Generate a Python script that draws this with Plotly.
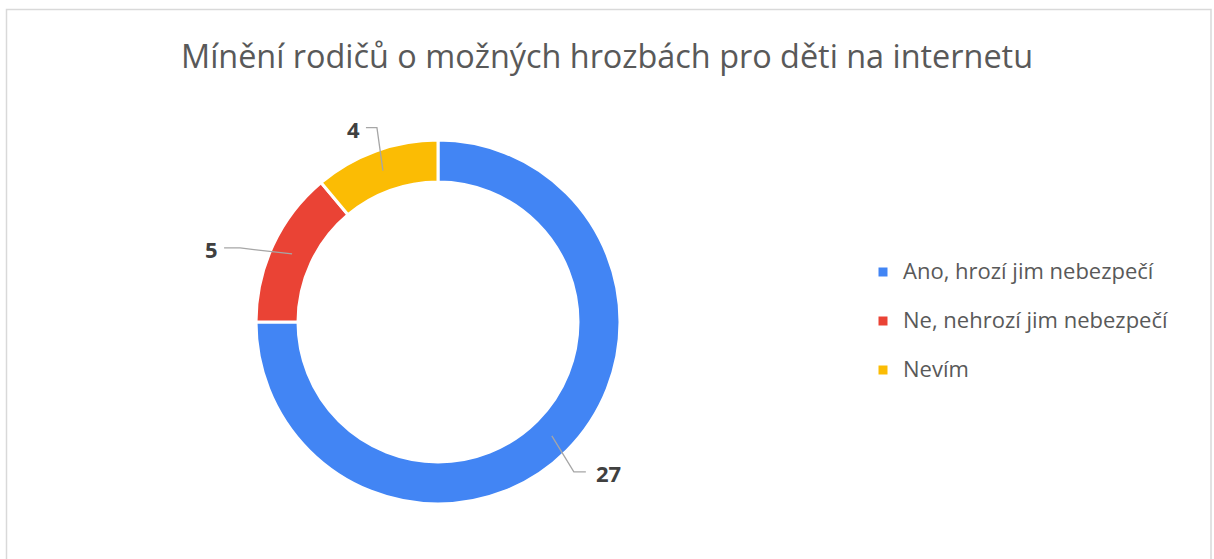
import math
import plotly.graph_objects as go

# ---- data ----
categories = ["Ano, hrozí jim nebezpečí", "Ne, nehrozí jim nebezpečí", "Nevím"]
counts = [27, 5, 4]
colors = ["#4285F4", "#EA4335", "#FBBC04"]
title_text = "Mínění rodičů o možných hrozbách pro děti na internetu"

# ---- layout constants (pixels) ----
W, H = 1214, 559
CX, CY = 438, 322      # pie centre
R_OUT, R_IN = 182, 140
FONT = "Open Sans"
# leader-line style per slice: (elbow dx, elbow dy, horizontal run, label side)
leader_style = [(22, 36, 12, "left"), (-52, -6, -16, "right"), (-6, -43, -11, "right")]


def px(x):
    return x / W


def py(y):
    return 1 - y / H


fig = go.Figure()
fig.add_trace(go.Pie(
    labels=[f"<span style='font-size:22px'>{c}</span><br> " for c in categories],
    values=counts,
    sort=False,
    direction="clockwise",
    rotation=0,
    hole=R_IN / R_OUT,
    marker=dict(colors=colors, line=dict(color="white", width=3)),
    textinfo="none",
    domain=dict(x=[px(CX - R_OUT), px(CX + R_OUT)], y=[py(CY + R_OUT), py(CY - R_OUT)]),
))

shapes = []
annotations = []
total = sum(counts)
cum = 0
r_mid = (R_OUT + R_IN) / 2
for v, (ex, ey, hx, side) in zip(counts, leader_style):
    mid = (cum + v / 2) / total * 2 * math.pi
    cum += v
    x0 = CX + r_mid * math.sin(mid)
    y0 = CY - r_mid * math.cos(mid)
    x1, y1 = x0 + ex, y0 + ey
    x2, y2 = x1 + hx, y1
    shapes.append(dict(type="path", xref="paper", yref="paper",
                       path=f"M {px(x0)},{py(y0)} L {px(x1)},{py(y1)} L {px(x2)},{py(y2)}",
                       line=dict(color="#A6A6A6", width=1.3)))
    gap = 8 if side == "left" else -4
    annotations.append(dict(text=f"<b>{v}</b>", x=px(x2 + gap), y=py(y2 + 1),
                            xref="paper", yref="paper", showarrow=False,
                            xanchor=side, yanchor="middle",
                            font=dict(family=FONT, size=22, color="#404040")))

# chart border
shapes.append(dict(type="rect", xref="paper", yref="paper",
                   x0=px(6.5), x1=px(1211), y0=-0.05, y1=py(9.5),
                   line=dict(color="#D9D9D9", width=1.5), fillcolor="rgba(0,0,0,0)"))

fig.update_layout(
    width=W, height=H,
    margin=dict(l=0, r=0, t=0, b=0),
    paper_bgcolor="white",
    font=dict(family=FONT, color="#595959"),
    title=dict(text=title_text, x=0.5, xanchor="center", y=py(57), yanchor="middle",
               xref="paper", yref="paper",
               font=dict(family=FONT, size=32.4, color="#595959")),
    showlegend=True,
    legend=dict(x=px(863), xanchor="left", y=py(333), yanchor="middle",
                font=dict(family=FONT, size=17.7, color="#595959"),
                bgcolor="rgba(0,0,0,0)", valign="top"),
    shapes=shapes,
    annotations=annotations,
)

fig.write_html("out.html", config={"displayModeBar": False},
               post_script="document.body.style.margin='0';")
